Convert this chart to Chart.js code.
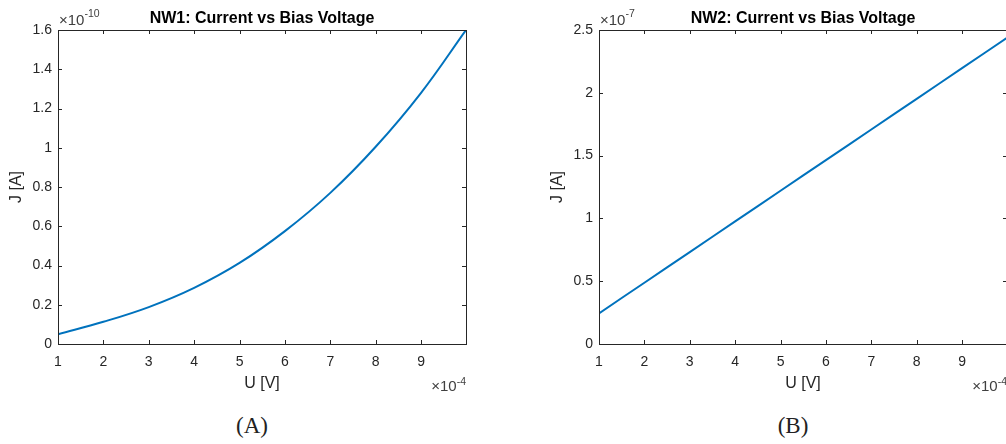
<!DOCTYPE html>
<html>
<head>
<meta charset="utf-8">
<script src="https://cdn.jsdelivr.net/npm/chart.js@4/dist/chart.umd.min.js"></script>
<style>
  html, body { margin: 0; padding: 0; background: #fff; overflow: hidden; }
  body { width: 1006px; height: 444px; position: relative; }
  .plot { position: absolute; top: 0; width: 490px; height: 410px; }
  .caption { position: absolute; top: 413px; font: 23px "Liberation Serif", serif; color: #222; width: 80px; text-align: center; }
</style>
</head>
<body>
<div class="plot" style="left:0px"><canvas id="nw1Chart"></canvas></div>
<div class="plot" style="left:541px"><canvas id="nw2Chart"></canvas></div>
<div class="caption" style="left:212px">(A)</div>
<div class="caption" style="left:753px">(B)</div>
<script>
// values in display units: U in 1e-4 V, J in 1e-10 A (NW1) and 1e-7 A (NW2)
const voltage = [1, 2, 3, 4, 5, 6, 7, 8, 9, 9.99];
const currentNW1 = [0.05, 0.113, 0.188, 0.286, 0.413, 0.575, 0.77, 1.005, 1.28, 1.6];
const currentNW2 = [0.244, 0.488, 0.732, 0.976, 1.22, 1.464, 1.708, 1.952, 2.196, 2.438];

const xRange = [1, 9.99];
const yRangeNW1 = [0, 1.6];
const yRangeNW2 = [0, 2.5];
const yStepNW1 = 0.2;
const yStepNW2 = 0.5;

const axisColor = '#262626';
const lineColor = '#0072BD';
const sans = '"Liberation Sans", Arial, sans-serif';

// MATLAB-like frame, inward ticks, title and exponent labels
const matlabAxes = {
    id: 'matlabAxes',
    afterDraw(chart, args, opts) {
        const c = chart.ctx;
        const a = chart.chartArea;
        const xs = chart.scales.x;
        const ys = chart.scales.y;
        c.save();
        c.strokeStyle = axisColor;
        c.lineWidth = 1;
        c.strokeRect(Math.round(a.left) + 0.5, Math.round(a.top) + 0.5,
            Math.round(a.right - a.left), Math.round(a.bottom - a.top));
        c.beginPath();
        xs.ticks.forEach(t => {
            const px = Math.round(xs.getPixelForValue(t.value)) + 0.5;
            c.moveTo(px, a.bottom); c.lineTo(px, a.bottom - 4);
            c.moveTo(px, a.top); c.lineTo(px, a.top + 4);
        });
        ys.ticks.forEach(t => {
            const py = Math.round(ys.getPixelForValue(t.value)) + 0.5;
            c.moveTo(a.left, py); c.lineTo(a.left + 4, py);
            c.moveTo(a.right, py); c.lineTo(a.right - 4, py);
        });
        c.stroke();

        const cx = (a.left + a.right) / 2;
        c.fillStyle = '#000';
        c.font = 'bold 16px ' + sans;
        c.textAlign = 'center';
        c.textBaseline = 'alphabetic';
        c.fillText(opts.title, cx, 23);

        c.fillStyle = axisColor;
        c.font = '16px ' + sans;
        c.fillText('U [V]', cx, 388);
        c.save();
        c.translate(a.left - 41, (a.top + a.bottom) / 2);
        c.rotate(-Math.PI / 2);
        c.textBaseline = 'middle';
        c.fillText('J [A]', 0, 0);
        c.restore();

        // exponent labels
        c.fillStyle = '#404040';
        c.textAlign = 'left';
        c.font = '15px ' + sans;
        c.fillText('\u00d710', a.left + 1, 25);
        const w = c.measureText('\u00d710').width;
        c.font = '10.5px ' + sans;
        c.fillText(opts.yExp, a.left + 1 + w, 16.5);

        c.textAlign = 'right';
        c.font = '10.5px ' + sans;
        const sw = c.measureText(opts.xExp).width;
        c.fillText(opts.xExp, a.right, 385);
        c.font = '15px ' + sans;
        c.fillText('\u00d710', a.right - sw, 391);
        c.restore();
    }
};

const tickFont = { family: sans, size: 14 };
const trimLabel = v => String(parseFloat(Number(v).toFixed(3)));

function makeChart(id, values, yRange, yStep, title, yExp) {
    const el = document.getElementById(id);
    return new Chart(el.getContext('2d'), {
        type: 'line',
        data: {
            labels: voltage,
            datasets: [{
                data: voltage.map((u, i) => ({ x: u, y: values[i] })),
                borderColor: lineColor,
                borderWidth: 2,
                pointRadius: 0,
                tension: 0.4,
                fill: false
            }]
        },
        options: {
            responsive: true,
            maintainAspectRatio: false,
            animation: false,
            layout: { padding: { top: 30, right: 24, left: 0, bottom: 36 } },
            plugins: {
                legend: { display: false },
                tooltip: { enabled: false },
                matlabAxes: { title: title, yExp: yExp, xExp: '-4' }
            },
            scales: {
                x: {
                    type: 'linear',
                    min: xRange[0],
                    max: xRange[1],
                    afterFit: s => { s.height = 30; },
                    grid: { display: false, drawTicks: false },
                    border: { display: false },
                    ticks: {
                        stepSize: 1,
                        includeBounds: false,
                        maxRotation: 0,
                        padding: 10,
                        color: axisColor,
                        font: tickFont,
                        callback: trimLabel
                    }
                },
                y: {
                    min: yRange[0],
                    max: yRange[1],
                    afterFit: s => { s.width = 58; },
                    grid: { display: false, drawTicks: false },
                    border: { display: false },
                    ticks: {
                        stepSize: yStep,
                        padding: 6,
                        color: axisColor,
                        font: tickFont,
                        callback: trimLabel
                    }
                }
            }
        },
        plugins: [matlabAxes]
    });
}

makeChart('nw1Chart', currentNW1, yRangeNW1, yStepNW1, 'NW1: Current vs Bias Voltage', '-10');
makeChart('nw2Chart', currentNW2, yRangeNW2, yStepNW2, 'NW2: Current vs Bias Voltage', '-7');
</script>
</body>
</html>
